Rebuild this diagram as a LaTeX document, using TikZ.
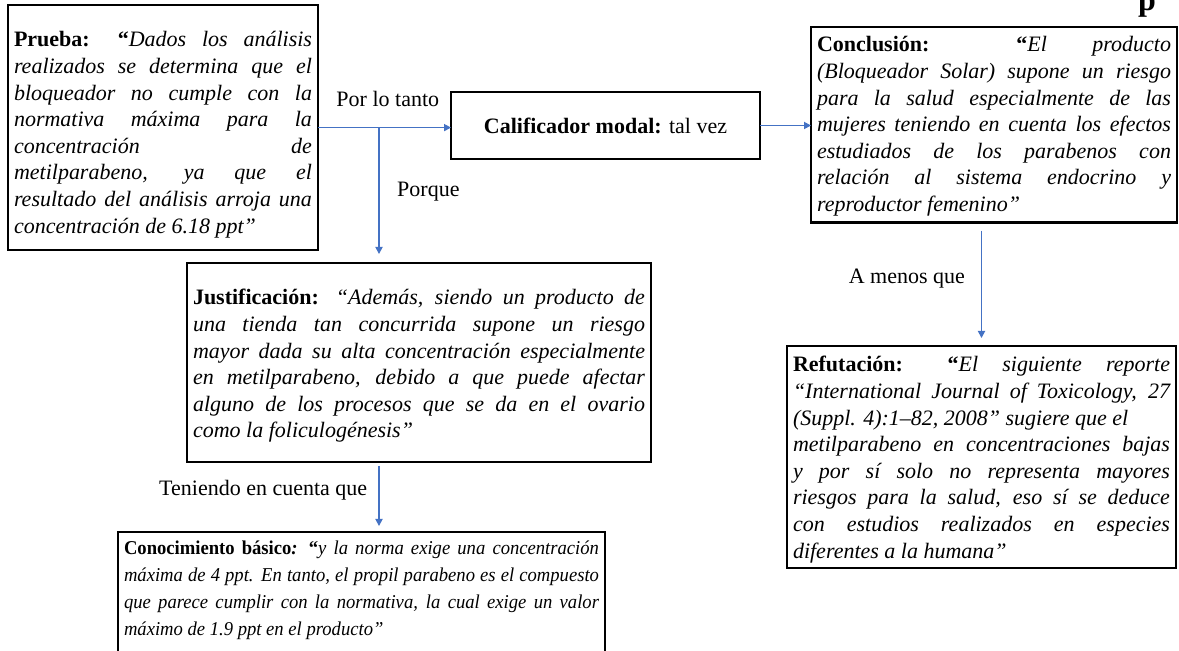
\documentclass[tikz,border=0pt]{standalone}
\usepackage{fontspec}
\setmainfont{Liberation Serif}
\newfontfamily\narrowserif[FakeStretch=0.95]{Liberation Serif}
\usetikzlibrary{positioning, calc, arrows.meta}

\definecolor{linkblue}{RGB}{68,114,196}
\tolerance=10000
\hbadness=10000

% padding struts for the first and last line of a box
\newcommand{\padtop}[1]{\rule{0pt}{#1}}
\newcommand{\padbot}[1]{\rule[-#1]{0pt}{#1}}

\begin{document}
\begin{tikzpicture}[
    % Box styles
    argbox/.style={
        draw, line width=1.3pt, outer sep=0pt, align=justify,
        inner xsep=3pt, inner ysep=2pt,
        font=\fontsize{11}{13.3}\selectfont
    },
    calbox/.style={
        draw, line width=1.3pt, outer sep=0pt,
        minimum width=154.5pt, minimum height=33.5pt,
        font=\fontsize{11}{13.3}\selectfont
    },
    linktext/.style={
        text=black, font=\fontsize{11}{13.3}\selectfont, inner sep=0pt
    },
    % Arrow style
    arrow/.style={-{Triangle[length=3.5pt, width=3.6pt]}, linkblue, line width=0.6pt},
]

\useasboundingbox (-4pt,2.5pt) rectangle (585.5pt,-323pt);

% ===== TOP ROW: Prueba, Calificador modal, Conclusion =====

% Prueba
\node[argbox, text width=149pt, anchor=north west] (prueba) at (0,0)
    {\padtop{19pt}\textbf{Prueba: “}\itshape Dados los análisis\linebreak
     realizados se determina que el\linebreak
     bloqueador no cumple con la\linebreak
     normativa máxima para la\linebreak
     concentración de\linebreak
     metilparabeno, ya que el\linebreak
     resultado del análisis arroja una\linebreak
     concentración de 6.18 ppt”\padbot{6.5pt}};

% Calificador modal
\node[calbox, below right=43.5pt and 66.5pt of prueba.north east] (calif)
    {\textbf{Calificador modal:} tal vez};

% Conclusion
\node[argbox, text width=177pt, below right=11pt and 246.5pt of prueba.north east] (concl)
    {\padtop{10.5pt}\textbf{Conclusión: “}\itshape El producto\linebreak
     (Bloqueador Solar) supone un riesgo\linebreak
     para la salud especialmente de las\linebreak
     mujeres teniendo en cuenta los efectos\linebreak
     estudiados de los parabenos con\linebreak
     relación al sistema endocrino y\linebreak
     reproductor femenino”\padbot{3.5pt}};

% ===== MIDDLE: Justificacion, Refutacion =====

\node[argbox, text width=226pt, below right=129pt and 89.5pt of prueba.north west] (just)
    {\padtop{19pt}\textbf{Justificación:} \itshape “Además, siendo un producto de\linebreak
     una tienda tan concurrida supone un riesgo\linebreak
     mayor dada su alta concentración especialmente\linebreak
     en metilparabeno, debido a que puede afectar\linebreak
     alguno de los procesos que se da en el ovario\linebreak
     como la foliculogénesis”\padbot{10pt}};

\node[argbox, text width=188.5pt, below right=170.5pt and 234.5pt of prueba.north east] (refut)
    {\padtop{11pt}\textbf{Refutación: “}\itshape El siguiente reporte\linebreak
     “International Journal of Toxicology, 27\linebreak
     (Suppl. 4):1–82, 2008” sugiere que el\\
     metilparabeno en concentraciones bajas\linebreak
     y por sí solo no representa mayores\linebreak
     riesgos para la salud, eso sí se deduce\linebreak
     con estudios realizados en especies\linebreak
     diferentes a la humana”\padbot{3pt}};

% ===== BOTTOM: Conocimiento basico =====

\node[argbox, text width=237.5pt, font=\narrowserif\fontsize{9.8}{13.5}\selectfont,
      below right=263.5pt and 55pt of prueba.north west] (conoc)
    {\padtop{9.5pt}\textbf{Conocimiento básico\textit{:} “}\itshape y la norma exige una concentración\linebreak
     máxima de 4 ppt. En tanto, el propil parabeno es el compuesto\linebreak
     que parece cumplir con la normativa, la cual exige un valor\linebreak
     máximo de 1.9 ppt en el producto”\padbot{14pt}};

% cut-off heading letter at the top edge
\node[font=\bfseries\fontsize{16}{16}\selectfont, anchor=base, inner sep=0pt] (headfrag)
    at (569.5pt,-3pt) {p};

% ===== ARROWS =====

% branch point on the Prueba -> Calificador line
\coordinate (split) at ([xshift=30.5pt]prueba.east);

\draw[arrow] (prueba.east) -- node[linktext, above=10pt, pos=0.525] {Por lo tanto}
    (prueba.east -| calif.west);
\draw[arrow, shorten >=4.5pt] (split) -- node[linktext, right=8.8pt, pos=0.47] {Porque}
    (split |- just.north);
\draw[arrow] (calif.east) -- (calif.east -| concl.west);
\draw[arrow, shorten <=4pt, shorten >=4pt] (concl.south -| refut.north)
    -- node[linktext, left=8pt, pos=0.45] {A menos que} (refut.north);
\draw[arrow, shorten <=2pt, shorten >=3pt] (just.south -| split)
    -- node[linktext, left=5.6pt, pos=0.4] {Teniendo en cuenta que} (conoc.north -| split);

\end{tikzpicture}
\end{document}
